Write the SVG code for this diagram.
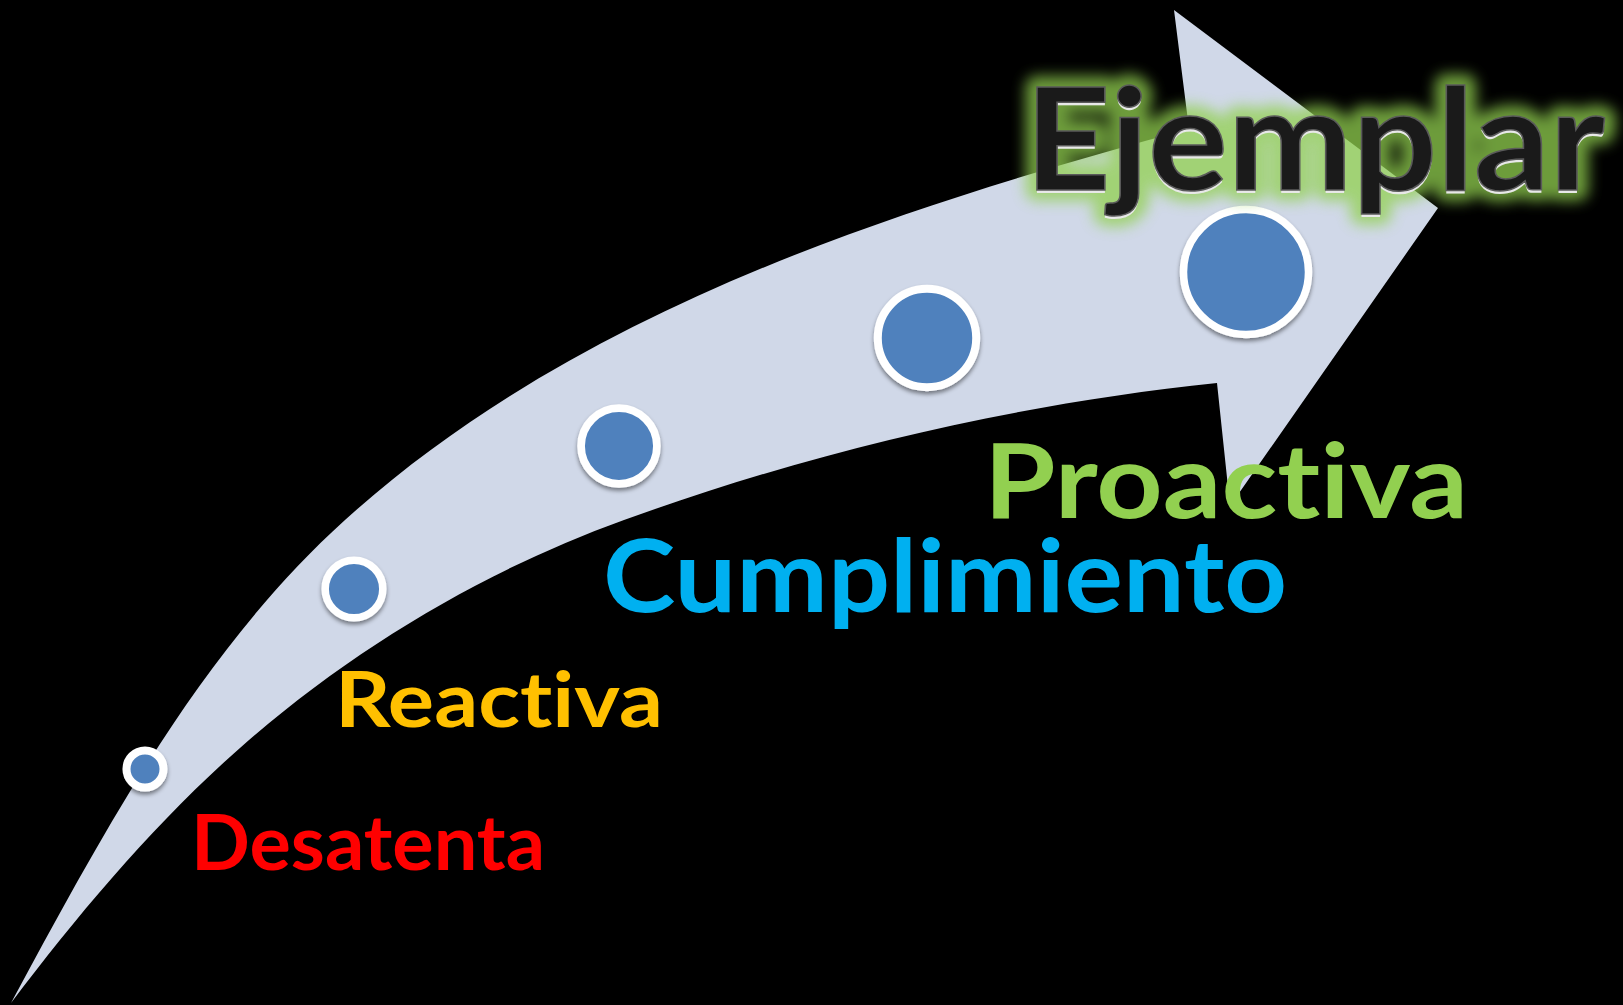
<svg xmlns="http://www.w3.org/2000/svg" width="1623" height="1005" viewBox="0 0 1623 1005">
  <defs>
    <style>
      .lbl { font-family: Lato, "Open Sans", "Liberation Sans", sans-serif; font-weight: bold; font-variant-ligatures: none; font-feature-settings: "liga" 0, "clig" 0; }
      .dot { fill: #4F81BD; stroke: #FFFFFF; filter: url(#shadow); }
    </style>
    <filter id="shadow" x="-30%" y="-30%" width="160%" height="170%">
      <feDropShadow dx="0" dy="3" stdDeviation="2" flood-color="#000000" flood-opacity="0.45"/>
    </filter>
    <filter id="glow" x="-10%" y="-40%" width="120%" height="180%">
      <feGaussianBlur stdDeviation="7"/>
    </filter>
  </defs>

  <rect x="0" y="0" width="1623" height="1005" fill="#000000"/>

  <g id="arrow">
    <path d="M 11,1003 C 104,831 200,651 345,520 C 575,312 890,210 1189,129 L 1174,10 L 1438,208 L 1230,506 L 1217,383 C 1015,404 815,451 624,520 C 488,569 359,645 249,740 C 160,817 82,909 11,1003 Z" fill="#D0D8E8"/>
  </g>

  <g id="node-desatenta">
    <circle class="dot" cx="145" cy="769" r="18.5" stroke-width="8"/>
    <text class="lbl" x="191" y="870" font-size="77" fill="#FF0000" textLength="354" lengthAdjust="spacingAndGlyphs">Desatenta</text>
  </g>

  <g id="node-reactiva">
    <circle class="dot" cx="354" cy="589" r="28.8" stroke-width="7.5"/>
    <text class="lbl" x="335" y="727" font-size="77" fill="#FFC000" textLength="328" lengthAdjust="spacingAndGlyphs">Reactiva</text>
  </g>

  <g id="node-cumplimiento">
    <circle class="dot" cx="619" cy="446" r="37.9" stroke-width="7.7"/>
    <text class="lbl" x="603" y="612" font-size="102" fill="#00B0F0" textLength="684" lengthAdjust="spacingAndGlyphs">Cumplimiento</text>
  </g>

  <g id="node-proactiva">
    <circle class="dot" cx="927" cy="338" r="49.2" stroke-width="8"/>
    <text class="lbl" x="984" y="518" font-size="104" fill="#92D050" textLength="484" lengthAdjust="spacingAndGlyphs">Proactiva</text>
  </g>

  <g id="node-ejemplar">
    <circle class="dot" cx="1246" cy="272" r="62.5" stroke-width="7.5"/>
    <text class="lbl" x="1025" y="190" font-size="141" fill="#92D050" stroke="#92D050" stroke-width="22" stroke-linejoin="round" opacity="0.75" filter="url(#glow)" textLength="580" lengthAdjust="spacingAndGlyphs">Ejemplar</text>
    <text class="lbl" x="1025" y="193" font-size="141" fill="#E8E8E8" textLength="580" lengthAdjust="spacingAndGlyphs">Ejemplar</text>
    <text class="lbl" x="1025" y="190" font-size="141" fill="#1A1A1A" stroke="#5A5A5A" stroke-width="1.5" textLength="580" lengthAdjust="spacingAndGlyphs">Ejemplar</text>
  </g>
</svg>
